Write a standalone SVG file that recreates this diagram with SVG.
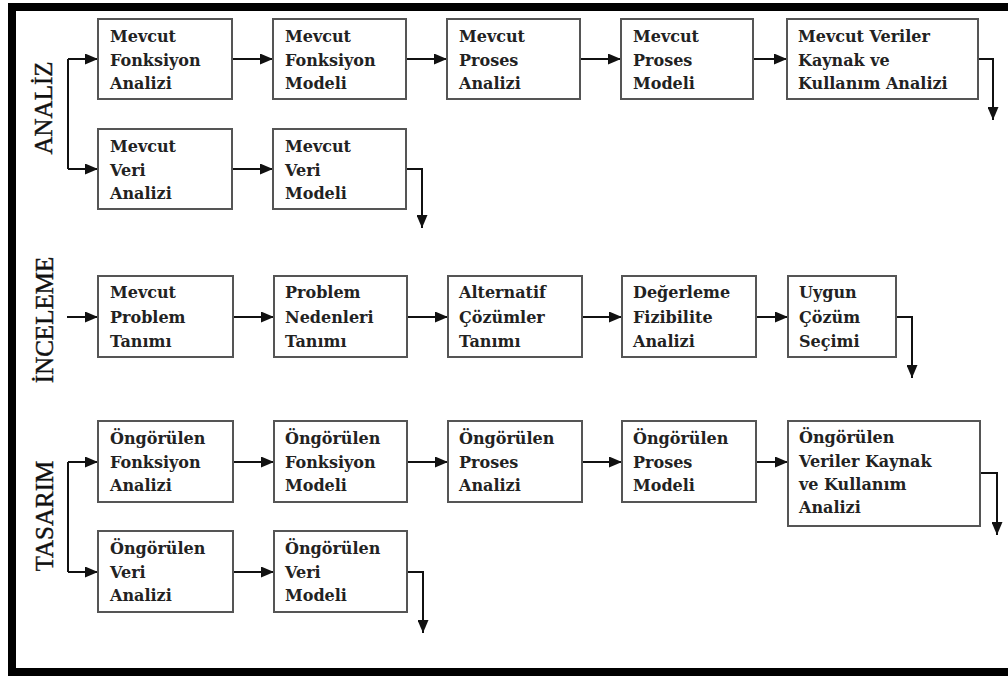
<svg xmlns="http://www.w3.org/2000/svg" width="1008" height="679" viewBox="0 0 1008 679">
<style>
.frame{fill:none;stroke:#000;stroke-width:8}
.box{fill:#fff;stroke:#555;stroke-width:2}
.t{font-family:"DejaVu Serif","Liberation Serif",serif;font-weight:bold;font-size:16px;fill:#222}
.lab{font-family:"Liberation Serif","Times New Roman",serif;font-size:25px;fill:#111;text-anchor:middle;stroke:#111;stroke-width:0.4}
.c{fill:none;stroke:#111;stroke-width:2}
</style>
<defs>
<marker id="ah" viewBox="0 0 13 11" refX="13" refY="5.5" markerWidth="13" markerHeight="11" markerUnits="userSpaceOnUse" orient="auto">
<path d="M0,0 L13,5.5 L0,11 z" fill="#111"/>
</marker>
</defs>
<rect class="frame" x="12" y="7" width="1010" height="665"/>
<rect x="0" y="0" width="1008" height="3" fill="#fff"/>

<g id="labels">
<text class="lab" transform="translate(52,108) rotate(-90)">ANALİZ</text>
<text class="lab" transform="translate(53,320) rotate(-90)">İNCELEME</text>
<text class="lab" transform="translate(53,516) rotate(-90)">TASARIM</text>
</g>

<g id="connectors">
<path class="c" d="M68,59 V169"/>
<path class="c" marker-end="url(#ah)" d="M68,59 H98"/>
<path class="c" marker-end="url(#ah)" d="M68,169 H98"/>
<path class="c" marker-end="url(#ah)" d="M232,59 H273"/>
<path class="c" marker-end="url(#ah)" d="M406,59 H447"/>
<path class="c" marker-end="url(#ah)" d="M580,59 H621"/>
<path class="c" marker-end="url(#ah)" d="M753,59 H787"/>
<path class="c" marker-end="url(#ah)" d="M978,59 H993 V120"/>
<path class="c" marker-end="url(#ah)" d="M232,169 H273"/>
<path class="c" marker-end="url(#ah)" d="M406,169 H422 V228"/>

<path class="c" marker-end="url(#ah)" d="M67,317 H98"/>
<path class="c" marker-end="url(#ah)" d="M233,317 H274"/>
<path class="c" marker-end="url(#ah)" d="M407,317 H448"/>
<path class="c" marker-end="url(#ah)" d="M582,317 H622"/>
<path class="c" marker-end="url(#ah)" d="M756,317 H788"/>
<path class="c" marker-end="url(#ah)" d="M896,317 H912 V378"/>

<path class="c" d="M68,462 V572"/>
<path class="c" marker-end="url(#ah)" d="M68,462 H98"/>
<path class="c" marker-end="url(#ah)" d="M68,572 H98"/>
<path class="c" marker-end="url(#ah)" d="M233,462 H274"/>
<path class="c" marker-end="url(#ah)" d="M407,462 H448"/>
<path class="c" marker-end="url(#ah)" d="M582,462 H622"/>
<path class="c" marker-end="url(#ah)" d="M756,462 H788"/>
<path class="c" marker-end="url(#ah)" d="M980,473 H997 V535"/>
<path class="c" marker-end="url(#ah)" d="M233,572 H274"/>
<path class="c" marker-end="url(#ah)" d="M407,572 H423 V633"/>
</g>

<g id="n1"><rect class="box" x="98" y="19" width="134" height="80"/>
<text class="t" x="110" y="42">Mevcut</text><text class="t" x="110" y="66">Fonksiyon</text><text class="t" x="110" y="89">Analizi</text></g>
<g id="n2"><rect class="box" x="273" y="19" width="133" height="80"/>
<text class="t" x="285" y="42">Mevcut</text><text class="t" x="285" y="66">Fonksiyon</text><text class="t" x="285" y="89">Modeli</text></g>
<g id="n3"><rect class="box" x="447" y="19" width="133" height="80"/>
<text class="t" x="459" y="42">Mevcut</text><text class="t" x="459" y="66">Proses</text><text class="t" x="459" y="89">Analizi</text></g>
<g id="n4"><rect class="box" x="621" y="19" width="132" height="80"/>
<text class="t" x="633" y="42">Mevcut</text><text class="t" x="633" y="66">Proses</text><text class="t" x="633" y="89">Modeli</text></g>
<g id="n5"><rect class="box" x="787" y="19" width="191" height="80"/>
<text class="t" x="798" y="42">Mevcut Veriler</text><text class="t" x="798" y="66">Kaynak ve</text><text class="t" x="798" y="89">Kullanım Analizi</text></g>
<g id="n6"><rect class="box" x="98" y="129" width="134" height="80"/>
<text class="t" x="110" y="152">Mevcut</text><text class="t" x="110" y="176">Veri</text><text class="t" x="110" y="199">Analizi</text></g>
<g id="n7"><rect class="box" x="273" y="129" width="133" height="80"/>
<text class="t" x="285" y="152">Mevcut</text><text class="t" x="285" y="176">Veri</text><text class="t" x="285" y="199">Modeli</text></g>

<g id="n8"><rect class="box" x="98" y="276" width="135" height="81"/>
<text class="t" x="110" y="298">Mevcut</text><text class="t" x="110" y="323">Problem</text><text class="t" x="110" y="347">Tanımı</text></g>
<g id="n9"><rect class="box" x="274" y="276" width="133" height="81"/>
<text class="t" x="285" y="298">Problem</text><text class="t" x="285" y="323">Nedenleri</text><text class="t" x="285" y="347">Tanımı</text></g>
<g id="n10"><rect class="box" x="448" y="276" width="134" height="81"/>
<text class="t" x="459" y="298">Alternatif</text><text class="t" x="459" y="323">Çözümler</text><text class="t" x="459" y="347">Tanımı</text></g>
<g id="n11"><rect class="box" x="622" y="276" width="134" height="81"/>
<text class="t" x="633" y="298">Değerleme</text><text class="t" x="633" y="323">Fizibilite</text><text class="t" x="633" y="347">Analizi</text></g>
<g id="n12"><rect class="box" x="788" y="276" width="108" height="81"/>
<text class="t" x="799" y="298">Uygun</text><text class="t" x="799" y="323">Çözüm</text><text class="t" x="799" y="347">Seçimi</text></g>

<g id="n13"><rect class="box" x="98" y="421" width="135" height="81"/>
<text class="t" x="110" y="444">Öngörülen</text><text class="t" x="110" y="468">Fonksiyon</text><text class="t" x="110" y="491">Analizi</text></g>
<g id="n14"><rect class="box" x="274" y="421" width="133" height="81"/>
<text class="t" x="285" y="444">Öngörülen</text><text class="t" x="285" y="468">Fonksiyon</text><text class="t" x="285" y="491">Modeli</text></g>
<g id="n15"><rect class="box" x="448" y="421" width="134" height="81"/>
<text class="t" x="459" y="444">Öngörülen</text><text class="t" x="459" y="468">Proses</text><text class="t" x="459" y="491">Analizi</text></g>
<g id="n16"><rect class="box" x="622" y="421" width="134" height="81"/>
<text class="t" x="633" y="444">Öngörülen</text><text class="t" x="633" y="468">Proses</text><text class="t" x="633" y="491">Modeli</text></g>
<g id="n17"><rect class="box" x="788" y="421" width="192" height="105"/>
<text class="t" x="799" y="443">Öngörülen</text><text class="t" x="799" y="467">Veriler Kaynak</text><text class="t" x="799" y="490">ve Kullanım</text><text class="t" x="799" y="513">Analizi</text></g>
<g id="n18"><rect class="box" x="98" y="531" width="135" height="81"/>
<text class="t" x="110" y="554">Öngörülen</text><text class="t" x="110" y="578">Veri</text><text class="t" x="110" y="601">Analizi</text></g>
<g id="n19"><rect class="box" x="274" y="531" width="133" height="81"/>
<text class="t" x="285" y="554">Öngörülen</text><text class="t" x="285" y="578">Veri</text><text class="t" x="285" y="601">Modeli</text></g>
</svg>
